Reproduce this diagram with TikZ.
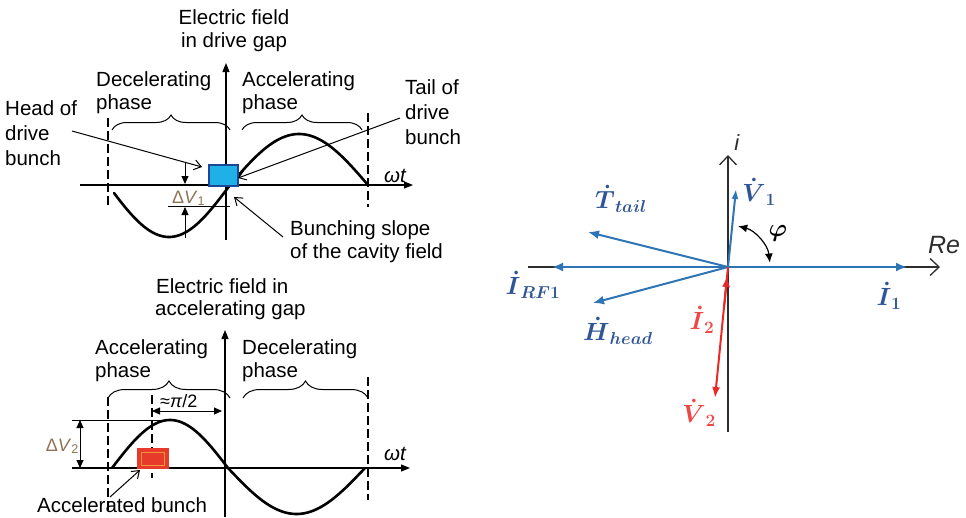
\documentclass[tikz,border=0pt]{standalone}
\usepackage{amsmath}
\usepackage{fontspec}
\setmainfont{Liberation Sans}
\usetikzlibrary{arrows.meta,decorations.pathreplacing}
\definecolor{vblue}{RGB}{46,117,182}
\definecolor{lblue}{RGB}{47,85,151}
\definecolor{vred}{RGB}{235,40,40}
\definecolor{lred}{RGB}{240,70,70}
\definecolor{boxcyan}{RGB}{30,176,230}
\definecolor{boxedge}{RGB}{30,70,150}
\definecolor{boxred}{RGB}{232,58,42}
\definecolor{boxorange}{RGB}{245,150,60}
\definecolor{dvcol}{RGB}{140,115,85}
\definecolor{axgray}{RGB}{45,45,45}
\begin{document}
\begin{tikzpicture}[x=1pt,y=-1pt,
  lbl/.style={inner sep=0pt, anchor=base west, font=\fontsize{20.5}{23}\selectfont},
  plbl/.style={inner sep=0pt, font=\fontsize{27}{32}\selectfont},
  wave/.style={line width=2.6pt, line cap=round},
  axis/.style={line width=1.1pt, -{Triangle[length=9pt,width=7pt]}},
  guide/.style={line width=1.1pt, dash pattern=on 9pt off 4pt},
  brc/.style={decorate, decoration={brace, amplitude=#1}, line width=1pt},
  brc/.default=15pt,
  pointer/.style={line width=1pt, -{Straight Barb[length=7pt,width=10pt]}},
  dvarrow/.style={line width=1pt, -{Triangle[length=8pt,width=7pt]}},
  paxis/.style={line width=1.3pt, draw=axgray, -{Straight Barb[length=9pt,width=17pt]}},
  vec/.style={line width=2pt, draw=vblue, -{Latex[length=11pt,width=9pt]}},
  rvec/.style={line width=2pt, draw=vred, -{Latex[length=11pt,width=8pt]}}
]
\useasboundingbox (0,0) rectangle (966,517);

% ================= TOP DIAGRAM =================
\node[lbl, anchor=center, align=center] (t1title) at (234,31) {Electric field\\in drive gap};
\coordinate (t1ybot) at (226,240);
\coordinate (t1ytop) at (226,63);
\coordinate (t1xl) at (80,185);
\coordinate (t1xr) at (413,185);
\draw[axis] (t1ybot) -- (t1ytop);
\draw[axis] (t1xl) -- (t1xr);
\node[lbl] (t1wt) at (384,182) {\textit{ωt}};

\coordinate (t1d1a) at (108,118); \coordinate (t1d1b) at (108,207);
\coordinate (t1d2a) at (368,113); \coordinate (t1d2b) at (368,207);
\draw[guide] (t1d1a) -- (t1d1b);
\draw[guide] (t1d2a) -- (t1d2b);

\draw[wave] plot[domain=114:230, samples=60] (\x, {185+52*sin((\x-108)/122*180)});
\draw[wave] plot[domain=230:368, samples=60] (\x, {185-51*sin((\x-230)/138*180)});

\coordinate (t1b1a) at (112,130); \coordinate (t1b1b) at (230,130);
\coordinate (t1b2a) at (242,130); \coordinate (t1b2b) at (362,130);
\draw[brc] (t1b1a) -- (t1b1b);
\draw[brc] (t1b2a) -- (t1b2b);
\node[lbl] (t1dec1) at (96,86) {Decelerating};
\node[lbl] (t1dec2) at (96,109) {phase};
\node[lbl] (t1acc1) at (242,86) {Accelerating};
\node[lbl] (t1acc2) at (242,109) {phase};

\node[lbl] (head1) at (5,115) {Head of};
\node[lbl] (head2) at (5,140) {drive};
\node[lbl] (head3) at (5,165) {bunch};
\node[lbl] (tail1) at (405,94) {Tail of};
\node[lbl] (tail2) at (405,119) {drive};
\node[lbl] (tail3) at (405,144) {bunch};
\node[lbl] (slope1) at (290,235) {Bunching slope};
\node[lbl] (slope2) at (290,258) {of the cavity field};

\node[draw=boxedge, fill=boxcyan, line width=1.5pt, minimum width=29pt, minimum height=21pt, inner sep=0pt, anchor=north west] (dbunch) at (208,164) {};

\coordinate (headfrom) at (72,131); \coordinate (headto) at (202,167);
\coordinate (tailfrom) at (400,118); \coordinate (tailto) at (238,178);
\coordinate (slopefrom) at (283,237); \coordinate (slopeto) at (234,197);
\draw[pointer] (headfrom) -- (headto);
\draw[pointer] (tailfrom) -- (tailto);
\draw[pointer] (slopefrom) -- (slopeto);

\coordinate (dv1l) at (168,206); \coordinate (dv1r) at (230,206);
\draw[line width=1pt] (dv1l) -- (dv1r);
\coordinate (dv1a) at (185,163); \coordinate (dv1b) at (185,184);
\coordinate (dv1c) at (185,238); \coordinate (dv1d) at (185,207);
\draw[dvarrow] (dv1a) -- (dv1b);
\draw[dvarrow] (dv1c) -- (dv1d);
\node[lbl, font=\fontsize{18}{20}\selectfont, text=dvcol] (dv1lbl) at (172,203) {Δ\textit{V}\textsubscript{1}};

% ================= BOTTOM DIAGRAM =================
\node[lbl] (t2title1) at (156,293) {Electric field in};
\node[lbl] (t2title2) at (155,315) {accelerating gap};
\coordinate (t2ybot) at (225,517);
\coordinate (t2ytop) at (225,330);
\coordinate (t2xl) at (72,468);
\coordinate (t2xr) at (410,468);
\draw[axis] (t2ybot) -- (t2ytop);
\draw[axis] (t2xl) -- (t2xr);
\node[lbl] (t2wt) at (384,460) {\textit{ωt}};

\coordinate (t2d1a) at (108,397); \coordinate (t2d1b) at (108,513);
\coordinate (t2d2a) at (368,377); \coordinate (t2d2b) at (368,500);
\coordinate (t2d3a) at (152,395); \coordinate (t2d3b) at (152,478);
\draw[guide] (t2d1a) -- (t2d1b);
\draw[guide] (t2d2a) -- (t2d2b);
\draw[guide] (t2d3a) -- (t2d3b);

\draw[wave] plot[domain=112:228, samples=60] (\x, {468-48*sin((\x-112)/116*180)});
\draw[wave] plot[domain=228:365, samples=60] (\x, {468+46*sin((\x-228)/137*180)});

\coordinate (t2b1a) at (108,398); \coordinate (t2b1b) at (230,398);
\coordinate (t2b2a) at (243,398); \coordinate (t2b2b) at (368,398);
\draw[brc=17pt] (t2b1a) -- (t2b1b);
\draw[brc=17pt] (t2b2a) -- (t2b2b);
\node[lbl] (t2acc1) at (95,354) {Accelerating};
\node[lbl] (t2acc2) at (95,377) {phase};
\node[lbl] (t2dec1) at (242,354) {Decelerating};
\node[lbl] (t2dec2) at (242,377) {phase};

\coordinate (pia) at (152,411); \coordinate (pib) at (222,411);
\draw[line width=1pt, {Triangle[length=8pt,width=7pt]}-{Triangle[length=8pt,width=7pt]}] (pia) -- (pib);
\node[lbl, font=\fontsize{18}{20}\selectfont] (pilbl) at (160,407) {≈\textit{π}/2};

\coordinate (dv2l) at (72,420); \coordinate (dv2r) at (165,420);
\draw[line width=1pt] (dv2l) -- (dv2r);
\coordinate (dv2a) at (80,420); \coordinate (dv2b) at (80,468);
\draw[line width=1pt, {Triangle[length=8pt,width=7pt]}-{Triangle[length=8pt,width=7pt]}] (dv2a) -- (dv2b);
\node[lbl, font=\fontsize{18}{20}\selectfont, text=dvcol, anchor=base east] (dv2lbl) at (79,451) {Δ\textit{V}\textsubscript{2}};

\node[draw=boxred, fill=boxred, line width=1pt, minimum width=31pt, minimum height=20pt, inner sep=0pt, anchor=north west] (abunch) at (137,448) {};
\draw[boxorange, line width=0.8pt] (141,452) rectangle (164,465);
\node[lbl] (acclbl) at (37,512) {Accelerated bunch};
\coordinate (accfrom) at (110,497); \coordinate (accto) at (140,470);
\draw[pointer] (accfrom) -- (accto);

% ================= PHASOR DIAGRAM =================
\coordinate (O) at (728,267);
\coordinate (pyb) at (728,432); \coordinate (pyt) at (728,155);
\coordinate (pxl) at (528,267); \coordinate (pxr) at (940,267);
\draw[paxis] (pyb) -- (pyt);
\draw[paxis] (pxl) -- (pxr);
\node[plbl, font=\fontsize{22}{24}\selectfont, text=axgray] (ilbl) at (737,143) {\textit{i}};
\node[plbl, font=\fontsize{25}{28}\selectfont, text=axgray] (relbl) at (944,245) {\textit{Re}};

\coordinate (I1) at (907,267);
\coordinate (IRF) at (552,267);
\coordinate (TT) at (588,232);
\coordinate (HH) at (593,303);
\coordinate (V1) at (736,189);
\coordinate (V2) at (715,398);
\coordinate (I2a) at (724.3,305);
\coordinate (I2b) at (727.1,276);
\draw[vec] (O) -- (I1);
\draw[vec] (O) -- (IRF);
\draw[vec] (O) -- (TT);
\draw[vec] (O) -- (HH);
\draw[vec, -{Latex[length=10pt,width=7pt]}] (O) -- (V1);
\draw[rvec] (O) -- (V2);
\draw[rvec] (I2a) -- (I2b);

\node[plbl, text=lblue] (I1lbl) at (889,296) {$\boldsymbol{\dot I}_{\boldsymbol{1}}$};
\node[plbl, text=lblue] (IRFlbl) at (533,285) {$\boldsymbol{\dot I}_{\boldsymbol{RF1}}$};
\node[plbl, text=lblue] (TTlbl) at (621,199) {$\boldsymbol{\dot T}_{\boldsymbol{tail}}$};
\node[plbl, text=lblue] (HHlbl) at (618,331) {$\boldsymbol{\dot H}_{\boldsymbol{head}}$};
\node[plbl, text=lblue] (V1lbl) at (759,192) {$\boldsymbol{\dot V}_{\boldsymbol{1}}$};
\node[plbl, text=lred] (I2lbl) at (702,320) {$\boldsymbol{\dot I}_{\boldsymbol{2}}$};
\node[plbl, text=lred] (V2lbl) at (699,413) {$\boldsymbol{\dot V}_{\boldsymbol{2}}$};

\coordinate (phistart) at (738.2,226.2);
\draw[line width=1.2pt, {Latex[length=9pt,width=8pt]}-{Latex[length=9pt,width=8pt]}] (phistart) arc[start angle=76, end angle=6, radius=42pt];
\node[plbl, font=\fontsize{25}{28}\selectfont] (philbl) at (778,233) {$\boldsymbol{\varphi}$};
\end{tikzpicture}
\end{document}
